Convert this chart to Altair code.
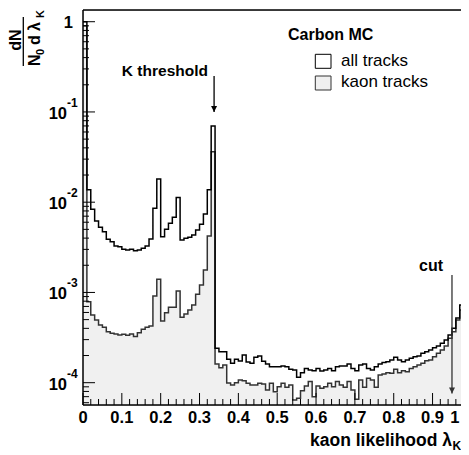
import altair as alt
import pandas as pd

FONT = "Liberation Sans"

# ---------------- data ----------------
bin_low = [round(i * 0.01, 2) for i in range(100)]

all_tracks = [
    1.0, 0.0137, 0.00834, 0.00619, 0.00527, 0.00471, 0.00388, 0.00365, 0.00327, 0.00321,
    0.00301, 0.00295, 0.00301, 0.00290, 0.00295, 0.00308, 0.00327, 0.00391, 0.00855, 0.0181,
    0.00415, 0.00501, 0.00583, 0.00680, 0.0113, 0.00381, 0.00398, 0.00408, 0.00433, 0.00492,
    0.0057, 0.00740, 0.0137, 0.0699, 2.41e-4, 2.20e-4, 2.20e-4, 1.82e-4, 1.64e-4, 1.82e-4,
    1.74e-4, 2.03e-4, 1.70e-4, 1.64e-4, 1.91e-4, 1.98e-4, 1.73e-4, 1.61e-4, 1.50e-4, 1.50e-4,
    1.50e-4, 1.53e-4, 1.50e-4, 1.41e-4, 1.38e-4, 1.15e-4, 1.29e-4, 1.44e-4, 1.38e-4, 1.36e-4,
    1.44e-4, 1.35e-4, 1.38e-4, 1.44e-4, 1.36e-4, 1.50e-4, 1.53e-4, 1.53e-4, 1.61e-4, 1.44e-4,
    1.36e-4, 1.57e-4, 1.61e-4, 1.44e-4, 1.38e-4, 1.50e-4, 1.61e-4, 1.67e-4, 1.71e-4, 1.78e-4,
    1.91e-4, 1.78e-4, 1.71e-4, 1.78e-4, 1.86e-4, 1.94e-4, 1.98e-4, 2.12e-4, 2.20e-4, 2.30e-4,
    2.44e-4, 2.55e-4, 2.73e-4, 2.97e-4, 3.38e-4, 4.01e-4, 5.21e-4, 7.26e-4, 1.15e-3, 0.0149,
]

kaon_tracks = [
    0.9, 7.90e-4, 5.62e-4, 4.95e-4, 4.36e-4, 4.11e-4, 3.67e-4, 3.52e-4, 3.46e-4, 3.38e-4,
    3.44e-4, 3.35e-4, 3.46e-4, 3.24e-4, 3.58e-4, 3.91e-4, 4.11e-4, 4.25e-4, 9.14e-4, 1.40e-3,
    4.83e-4, 5.97e-4, 6.85e-4, 6.85e-4, 1.04e-3, 5.31e-4, 5.77e-4, 6.39e-4, 7.26e-4, 9.54e-4,
    1.21e-3, 1.77e-3, 4.22e-3, 0.0363, 1.61e-4, 1.46e-4, 1.57e-4, 9.93e-5, 9.42e-5, 1.00e-4,
    1.07e-4, 1.05e-4, 9.85e-5, 9.42e-5, 9.42e-5, 9.85e-5, 9.68e-5, 8.30e-5, 9.85e-5, 7.95e-5,
    9.03e-5, 9.85e-5, 8.89e-5, 9.42e-5, 6.43e-5, 6.71e-5, 8.15e-5, 9.19e-5, 1.03e-4, 7.00e-5,
    9.19e-5, 8.67e-5, 9.03e-5, 9.85e-5, 9.03e-5, 1.03e-4, 9.42e-5, 8.89e-5, 1.03e-4, 8.30e-5,
    6.55e-5, 1.07e-4, 8.89e-5, 1.12e-4, 1.07e-4, 8.89e-5, 1.22e-4, 1.25e-4, 1.29e-4, 1.27e-4,
    1.41e-4, 1.29e-4, 1.36e-4, 1.32e-4, 1.44e-4, 1.50e-4, 1.57e-4, 1.64e-4, 1.75e-4, 1.78e-4,
    1.94e-4, 2.12e-4, 2.30e-4, 2.55e-4, 3.10e-4, 3.67e-4, 4.95e-4, 6.39e-4, 1.04e-3, 0.0145,
]

x_major = [0.0, 0.1, 0.2, 0.3, 0.4, 0.5, 0.6, 0.7, 0.8, 0.9, 1.0]
x_labels = ["0", "0.1", "0.2", "0.3", "0.4", "0.5", "0.6", "0.7", "0.8", "0.9", "1"]
x_minor = [round(i * 0.02, 2) for i in range(51) if i % 5 != 0]
y_major = [1.0, 1e-1, 1e-2, 1e-3, 1e-4]
y_minor = [k * 10.0 ** d for d in range(-5, 0) for k in range(2, 10)]
y_label_main = ["1", "10", "10", "10", "10"]
y_label_pow = ["", "-1", "-2", "-3", "-4"]

legend_title = "Carbon MC"
legend_labels = ["all tracks", "kaon tracks"]

k_arrow = {"x": 0.3375, "y_top": 0.25, "y_tip": 0.1}
cut_arrow = {"x": 0.95, "y_top": 1.56e-3, "y_tip": 7.6e-5}

YMIN, YMAX = 5.66e-5, 1.348
W_FULL = 388.4   # pixel length of the x axis (extends past the visible window)
W, H = 378, 395  # visible plot area

# ---------------- chart ----------------
hist = pd.DataFrame({
    "x": bin_low + [1.0],
    "all": all_tracks + [all_tracks[-1]],
    "kaon": kaon_tracks + [kaon_tracks[-1]],
})
xs = alt.Scale(domain=[0, 1], range=[0, W_FULL], nice=False, zero=False)
ys = alt.Scale(type="log", domain=[YMIN, YMAX], nice=False)

X = lambda f: alt.X(f, scale=xs, axis=None)
Y = lambda f: alt.Y(f, scale=ys, axis=None)

base = alt.Chart(hist)
area = base.mark_area(interpolate="step-after", color="#f0f0f0", clip=True).encode(
    x=X("x:Q"), y=Y("kaon:Q"), y2=alt.datum(YMIN))
kaon_line = base.mark_line(interpolate="step-after", color="#333333",
                           strokeWidth=1.5, clip=True).encode(x=X("x:Q"), y=Y("kaon:Q"))
all_line = base.mark_line(interpolate="step-after", color="#000000",
                          strokeWidth=1.5, clip=True).encode(x=X("x:Q"), y=Y("all:Q"))

def xticks(vals, length):
    return alt.Chart(pd.DataFrame({"v": vals})).mark_rule(color="black", strokeWidth=1).encode(
        x=X("v:Q"), y=alt.value(H), y2=alt.value(H - length))

def yticks(vals, length):
    return alt.Chart(pd.DataFrame({"v": vals})).transform_filter(
        f"datum.v >= {YMIN} && datum.v <= {YMAX}").mark_rule(color="black", strokeWidth=1).encode(
        y=Y("v:Q"), x=alt.value(0), x2=alt.value(length))

# frame (top, left, bottom); right side lies outside the window
frame = alt.Chart(pd.DataFrame({"a": [0]}))
frame_lines = [
    frame.mark_rule(color="black", strokeWidth=1.5).encode(
        x=alt.value(0), x2=alt.value(W_FULL), y=alt.value(0)),
    frame.mark_rule(color="black", strokeWidth=1.5).encode(
        x=alt.value(0), x2=alt.value(W_FULL), y=alt.value(H)),
    frame.mark_rule(color="black", strokeWidth=1.5).encode(
        x=alt.value(0), y=alt.value(0), y2=alt.value(H)),
]

xlab_df = pd.DataFrame({"v": x_major, "t": x_labels})
xlab = alt.Chart(xlab_df).transform_filter("datum.v < 1").mark_text(
    align="center", baseline="alphabetic", font=FONT, fontSize=16.5, fontWeight="bold",
    color="black").encode(x=X("v:Q"), y=alt.value(H + 18), text="t:N")
# last label sits at the window edge: keep it visible
xlab_last = alt.Chart(xlab_df).transform_filter("datum.v >= 1").mark_text(
    align="right", baseline="alphabetic", font=FONT, fontSize=16.5, fontWeight="bold",
    color="black", dx=-12).encode(x=X("v:Q"), y=alt.value(H + 18), text="t:N")

ylab = pd.DataFrame({"v": y_major, "m": y_label_main, "p": y_label_pow})
ylab_one = alt.Chart(ylab).transform_filter("datum.p == ''").mark_text(
    align="right", baseline="alphabetic", font=FONT, fontSize=16.5, fontWeight="bold",
    color="black", dx=-10, dy=6).encode(y=Y("v:Q"), x=alt.value(0), text="m:N")
ylab_ten = alt.Chart(ylab).transform_filter("datum.p != ''").mark_text(
    align="right", baseline="alphabetic", font=FONT, fontSize=16.5, fontWeight="bold",
    color="black", dx=-16, dy=7).encode(y=Y("v:Q"), x=alt.value(0), text="m:N")
ylab_pow = alt.Chart(ylab).transform_filter("datum.p != ''").mark_text(
    align="left", baseline="alphabetic", font=FONT, fontSize=12, fontWeight="bold",
    color="black", dx=-16, dy=-5).encode(y=Y("v:Q"), x=alt.value(0), text="p:N")

def ptext(t, x, y, size, weight="bold", align="left", angle=0, color="black"):
    kw = dict(align=align, baseline="alphabetic", font=FONT, fontSize=size,
              fontWeight=weight, color=color)
    if angle:
        kw["angle"] = angle
    return alt.Chart(pd.DataFrame({"t": [t]})).mark_text(**kw).encode(
        text="t:N", x=alt.value(x), y=alt.value(y))

# y-axis title: dN / (N0 d lambda_K), rotated
ytitle = [
    ptext("dN", -62.3, 30, 16, align="center", angle=270),
    frame.mark_rule(color="black", strokeWidth=1.3).encode(
        x=alt.value(-59.7), y=alt.value(7), y2=alt.value(56)),
    ptext("N", -43, 56, 16, angle=270),
    ptext("0", -39.5, 45, 11, angle=270),
    ptext("d", -43, 35, 16, angle=270),
    ptext("λ", -43, 21, 16, angle=270),
    ptext("K", -39.5, 8, 11, angle=270),
]

# x-axis title
xtitle = [
    ptext("kaon likelihood λ", 369, 435.7, 17.5, align="right"),
    ptext("K", 369.5, 440, 12),
]

# legend
legend = [
    ptext(legend_title, 205, 30, 16),
    frame.mark_rect(fill="#ffffff", stroke="#000000", strokeWidth=1).encode(
        x=alt.value(232.3), x2=alt.value(248), y=alt.value(44.3), y2=alt.value(58.3)),
    frame.mark_rect(fill="#f0f0f0", stroke="#333333", strokeWidth=1).encode(
        x=alt.value(232.3), x2=alt.value(248), y=alt.value(66), y2=alt.value(80)),
    ptext(legend_labels[0], 258, 56, 17, weight="normal"),
    ptext(legend_labels[1], 258, 77.3, 17, weight="normal"),
]

# annotations (data coordinates)
def arrow(a, color):
    d = pd.DataFrame({"x": [a["x"]], "yt": [a["y_top"]], "yb": [a["y_tip"]]})
    c = alt.Chart(d)
    line = c.mark_rule(color=color, strokeWidth=1.3).encode(
        x=X("x:Q"), y=Y("yt:Q"), y2="yb:Q")
    head = c.mark_point(shape="M-1,-2L1,-2L0,0Z", size=36, filled=True, color=color,
                        opacity=1).encode(x=X("x:Q"), y=Y("yb:Q"))
    return [line, head]

def dtext(t, x, y, size):
    return alt.Chart(pd.DataFrame({"t": [t], "x": [x], "y": [y]})).mark_text(
        align="right", baseline="alphabetic", font=FONT, fontSize=size,
        fontWeight="bold", color="black").encode(text="t:N", x=X("x:Q"), y=Y("y:Q"))

annots = arrow(k_arrow, "#000000") + arrow(cut_arrow, "#333333") + [
    dtext("K threshold", 0.3218, 0.25, 15.5),
    dtext("cut", 0.927, 1.74e-3, 16),
]

chart = alt.layer(
    area, kaon_line, all_line,
    xticks(x_major, 12), xticks(x_minor, 6), yticks(y_major, 12), yticks(y_minor, 6),
    *frame_lines, xlab, xlab_last, ylab_one, ylab_ten, ylab_pow,
    *ytitle, *xtitle, *legend, *annots,
).properties(
    width=W, height=H,
    autosize=alt.AutoSizeParams(type="none"),
    padding={"left": 75, "top": 2, "right": 0, "bottom": 50},
).configure_view(stroke=None).configure(background="white")

chart.save("out.html", embed_options={"renderer": "svg", "actions": False})
